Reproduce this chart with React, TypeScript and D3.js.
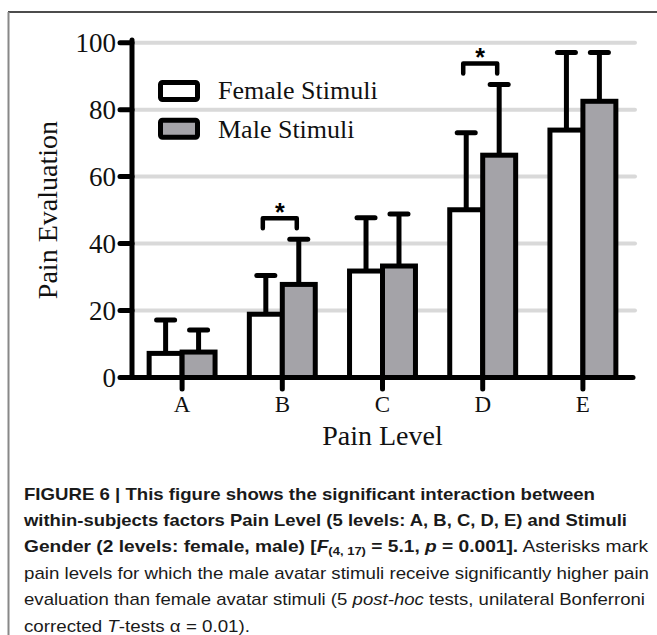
import React from 'react';
import * as d3 from 'd3';

const categories = ['A', 'B', 'C', 'D', 'E'];
const seriesNames = ['Female Stimuli', 'Male Stimuli'];
const femaleMean = [7.2, 18.9, 31.8, 50.1, 73.9];
const femaleSD = [10.0, 11.6, 15.9, 23.0, 23.2];
const maleMean = [7.6, 27.8, 33.3, 66.4, 82.5];
const maleSD = [6.6, 13.5, 15.5, 21.1, 14.6];
const yTicks = [0, 20, 40, 60, 80, 100];
const significantLevels = ['B', 'D'];
const yTitle = 'Pain Evaluation';
const xTitle = 'Pain Level';

type Seg = { t: string; b?: boolean; i?: boolean; sub?: boolean };
const captionLines: Seg[][] = [
  [{ t: 'FIGURE 6 | This figure shows the significant interaction between', b: true }],
  [{ t: 'within-subjects factors Pain Level (5 levels: A, B, C, D, E) and Stimuli', b: true }],
  [
    { t: 'Gender (2 levels: female, male) [', b: true },
    { t: 'F', b: true, i: true },
    { t: '(4, 17)', b: true, sub: true },
    { t: ' = 5.1, ', b: true },
    { t: 'p', b: true, i: true },
    { t: ' = 0.001].', b: true },
    { t: ' Asterisks mark' },
  ],
  [{ t: 'pain levels for which the male avatar stimuli receive significantly higher pain' }],
  [
    { t: 'evaluation than female avatar stimuli (5 ' },
    { t: 'post-hoc', i: true },
    { t: ' tests, unilateral Bonferroni' },
  ],
  [{ t: 'corrected ' }, { t: 'T', i: true }, { t: '-tests α = 0.01).' }],
];
const captionWidths = [571, 603, 624, 625, 621, 226];

const W = 657;
const H = 635;
const serif = '"Liberation Serif", "Times New Roman", serif';
const sans = '"Liberation Sans", Arial, Helvetica, sans-serif';

export default function App() {
  const x0 = d3.scaleBand<string>().domain(categories).range([132, 633]).paddingInner(0).paddingOuter(0);
  const x1 = d3.scaleBand<string>().domain(seriesNames).range([0, x0.bandwidth()]).paddingInner(0).paddingOuter(0.52);
  const y = d3.scaleLinear().domain([0, 100]).range([377.5, 42.7]);

  const data = categories.map((c, i) => ({
    cat: c,
    vals: [
      { s: seriesNames[0], mean: femaleMean[i], sd: femaleSD[i], fill: '#ffffff' },
      { s: seriesNames[1], mean: maleMean[i], sd: maleSD[i], fill: '#a4a3a8' },
    ],
  }));

  const sw = 5;
  const capW = 18;

  return (
    <svg width={W} height={H} style={{ position: 'absolute', left: 0, top: 0, background: '#fff' }}>
      <rect x={0} y={0} width={W} height={H} fill="#fff" />
      {/* frame */}
      <line x1={8} x2={W} y1={12} y2={12} stroke="#111" strokeWidth={1.5} />
      <line x1={8.5} x2={8.5} y1={12} y2={H} stroke="#888" strokeWidth={2} />

      {/* gridlines */}
      {yTicks.filter((t) => t > 0).map((t) => (
        <line key={'g' + t} x1={134} x2={635} y1={y(t)} y2={y(t)} stroke="#d9d9d9" strokeWidth={4} strokeLinecap="round" />
      ))}

      {/* error bars */}
      {data.map((d) =>
        d.vals.map((v) => {
          const cx = (x0(d.cat) as number) + (x1(v.s) as number) + x1.bandwidth() / 2;
          return (
            <g key={'e' + d.cat + v.s}>
              <line x1={cx} x2={cx} y1={y(v.mean)} y2={y(v.mean + v.sd)} stroke="#000" strokeWidth={sw} />
              <line x1={cx - capW / 2} x2={cx + capW / 2} y1={y(v.mean + v.sd)} y2={y(v.mean + v.sd)} stroke="#000" strokeWidth={sw} strokeLinecap="round" />
            </g>
          );
        })
      )}

      {/* bars */}
      {data.map((d) =>
        d.vals.map((v) => (
          <rect
            key={'b' + d.cat + v.s}
            x={(x0(d.cat) as number) + (x1(v.s) as number)}
            y={y(v.mean)}
            width={x1.bandwidth()}
            height={y(0) - y(v.mean)}
            fill={v.fill}
            stroke="#000"
            strokeWidth={sw}
          />
        ))
      )}

      {/* significance brackets */}
      {data
        .filter((d) => significantLevels.includes(d.cat))
        .map((d) => {
          const xa = (x0(d.cat) as number) + (x1(seriesNames[0]) as number) + x1.bandwidth() / 2 - 3;
          const xb = (x0(d.cat) as number) + (x1(seriesNames[1]) as number) + x1.bandwidth() / 2 - 2;
          const top = Math.max(...d.vals.map((v) => v.mean + v.sd)) + 6.3;
          const yt = y(top);
          const yl = y(top - 3);
          return (
            <g key={'s' + d.cat}>
              <path d={`M${xa},${yl}V${yt}H${xb}V${yl}`} fill="none" stroke="#000" strokeWidth={4.5} strokeLinecap="round" strokeLinejoin="round" />
              <text x={(xa + xb) / 2} y={yt + 3} textAnchor="middle" fontFamily={sans} fontWeight="bold" fontSize={25}>*</text>
            </g>
          );
        })}

      {/* axes */}
      <line x1={132} x2={132} y1={40} y2={y(0)} stroke="#000" strokeWidth={sw} strokeLinecap="round" />
      <line x1={132} x2={633} y1={y(0)} y2={y(0)} stroke="#000" strokeWidth={sw} strokeLinecap="round" />
      {yTicks.map((t) => (
        <g key={'yt' + t}>
          <line x1={120} x2={132} y1={y(t)} y2={y(t)} stroke="#000" strokeWidth={sw} strokeLinecap="round" />
          <text x={116} y={y(t) + 9} textAnchor="end" fontFamily={serif} fontSize={27} fill="#111">{t}</text>
        </g>
      ))}
      {categories.map((c) => {
        const cx = (x0(c) as number) + x0.bandwidth() / 2;
        return (
          <g key={'xt' + c}>
            <line x1={cx} x2={cx} y1={y(0)} y2={389} stroke="#000" strokeWidth={sw} strokeLinecap="round" />
            <text x={cx} y={411.7} textAnchor="middle" fontFamily={serif} fontSize={23} fill="#111">{c}</text>
          </g>
        );
      })}
      <text x={382.5} y={445} textAnchor="middle" fontFamily={serif} fontSize={28} fill="#111">{xTitle}</text>
      <text transform={`translate(57,${(y(0) + y(100)) / 2}) rotate(-90)`} textAnchor="middle" fontFamily={serif} fontSize={28} fill="#111">{yTitle}</text>

      {/* legend */}
      {seriesNames.map((s, i) => (
        <g key={'l' + s}>
          <rect x={160.5} y={82.5 + i * 37.7} width={37} height={17} rx={2} fill={i === 0 ? '#fff' : '#a4a3a8'} stroke="#000" strokeWidth={sw} />
          <text x={218} y={98.5 + i * 39.8} fontFamily={serif} fontSize={26} fill="#111">{s}</text>
        </g>
      ))}

      {/* caption */}
      {captionLines.map((segs, li) => (
        <text
          key={'c' + li}
          x={24}
          y={499.5 + li * 26.4}
          fontFamily={sans}
          fontSize={16.2}
          fill="#1a1a1a"
          textLength={captionWidths[li]}
          lengthAdjust="spacingAndGlyphs"
        >
          {segs.map((s, si) => (
            <tspan
              key={si}
              fontWeight={s.b ? 'bold' : 'normal'}
              fontStyle={s.i ? 'italic' : 'normal'}
              fontSize={s.sub ? 11 : undefined}
              baselineShift={s.sub ? '-3' : undefined}
            >
              {s.t}
            </tspan>
          ))}
        </text>
      ))}
    </svg>
  );
}
